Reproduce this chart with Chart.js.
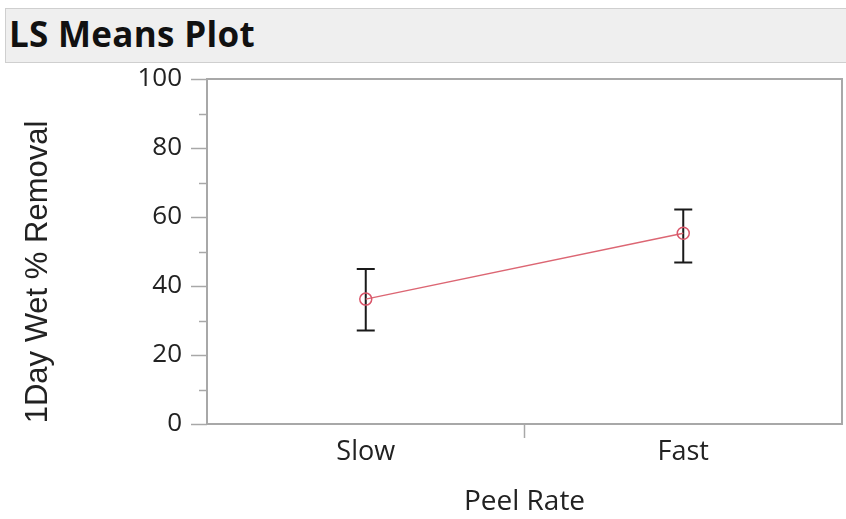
<!DOCTYPE html>
<html>
<head>
<meta charset="utf-8">
<script src="https://cdn.jsdelivr.net/npm/chart.js@4"></script>
<style>
  html, body { margin: 0; padding: 0; background: #ffffff; }
  #wrap { position: relative; width: 846px; height: 519px; overflow: hidden; }
  #header {
    position: absolute; left: 5px; top: 8px; width: 845px; height: 55px;
    background: #efefef; border: 1px solid #cfcfcf; box-sizing: border-box;
  }
  #header span {
    position: absolute; left: 3px; top: 8px;
    font-family: "Open Sans", sans-serif; font-weight: 700; font-size: 35px;
    line-height: 34px; letter-spacing: 0.3px; color: #111;
  }
  #c { position: absolute; left: 0; top: 0; }
</style>
</head>
<body>
<div id="wrap">
  <div id="header"><span>LS Means Plot</span></div>
  <canvas id="c" width="846" height="519"></canvas>
</div>
<script>
// Least-squares means of 1-day wet removal by peel rate, with confidence limits
const categories = ['Slow', 'Fast'];
const lsMeans   = [36.2, 55.3];
const lowerCL   = [27.1, 46.8];
const upperCL   = [44.9, 62.2];
const minorTicks = [10, 30, 50, 70, 90];
const yTitle = '1Day Wet % Removal';

const FRAME = '#a8a8a8';
const TEXT  = '#222222';

// Frame, minor ticks, the centre category tick, confidence-limit bars and y title
const plotDecor = {
  id: 'plotDecor',
  beforeDatasetsDraw(chart) {
    const { ctx, chartArea: a, scales: { x, y } } = chart;
    ctx.save();
    // plot frame
    ctx.strokeStyle = FRAME;
    ctx.lineWidth = 2;
    ctx.strokeRect(a.left, a.top, a.right - a.left, a.bottom - a.top);
    // minor y ticks
    ctx.lineWidth = 1.5;
    minorTicks.forEach(v => {
      const py = Math.round(y.getPixelForValue(v)) + 0.5;
      ctx.beginPath();
      ctx.moveTo(a.left - 8, py);
      ctx.lineTo(a.left, py);
      ctx.stroke();
    });
    // tick between the two categories
    const mid = (x.getPixelForValue(0) + x.getPixelForValue(1)) / 2;
    ctx.beginPath();
    ctx.moveTo(mid, a.bottom);
    ctx.lineTo(mid, a.bottom + 14);
    ctx.stroke();
    // confidence-limit bars
    ctx.strokeStyle = '#1a1a1a';
    ctx.lineWidth = 2;
    categories.forEach((c, i) => {
      const px = x.getPixelForValue(i);
      const yl = y.getPixelForValue(lowerCL[i]);
      const yu = y.getPixelForValue(upperCL[i]);
      ctx.beginPath();
      ctx.moveTo(px, yl); ctx.lineTo(px, yu);
      ctx.moveTo(px - 9, yu); ctx.lineTo(px + 9, yu);
      ctx.moveTo(px - 9, yl); ctx.lineTo(px + 9, yl);
      ctx.stroke();
    });
    // y axis title, rotated
    ctx.translate(38, 272);
    ctx.rotate(-Math.PI / 2);
    ctx.fillStyle = TEXT;
    ctx.font = '31px "Liberation Sans", Arial, sans-serif';
    ctx.textAlign = 'center';
    ctx.textBaseline = 'middle';
    ctx.fillText(yTitle, 0, 0);
    ctx.restore();
  }
};

new Chart(document.getElementById('c'), {
  type: 'line',
  data: {
    labels: categories,
    datasets: [{
      data: lsMeans,
      borderColor: '#dc6673',
      borderWidth: 1.5,
      pointRadius: 6,
      pointBorderWidth: 1.5,
      pointBorderColor: '#d9566a',
      pointBackgroundColor: 'rgba(0,0,0,0)',
      tension: 0
    }]
  },
  options: {
    responsive: false,
    animation: false,
    events: [],
    layout: { autoPadding: false, padding: { top: 79, right: 4, left: 0, bottom: 0 } },
    plugins: { legend: { display: false }, tooltip: { enabled: false } },
    scales: {
      x: {
        type: 'category',
        offset: true,
        grid: { display: false, drawTicks: false },
        border: { display: false },
        ticks: {
          padding: 12,
          color: TEXT,
          font: { family: '"Open Sans", sans-serif', size: 27 }
        },
        title: {
          display: true,
          text: 'Peel Rate',
          color: TEXT,
          padding: { top: 12, bottom: 0 },
          font: { family: '"Open Sans", sans-serif', size: 28 }
        },
        afterFit(s) { s.height = 95; s.paddingLeft = 0; s.paddingRight = 0; }
      },
      y: {
        min: 0, max: 100,
        ticks: {
          stepSize: 20,
          padding: 9,
          color: TEXT,
          font: { family: '"Open Sans", sans-serif', size: 26 }
        },
        grid: {
          drawOnChartArea: false,
          drawTicks: true,
          tickLength: 16,
          tickColor: FRAME,
          tickWidth: 1.5
        },
        border: { display: false },
        afterFit(s) { s.width = 207; }
      }
    }
  },
  plugins: [plotDecor]
});
</script>
</body>
</html>
